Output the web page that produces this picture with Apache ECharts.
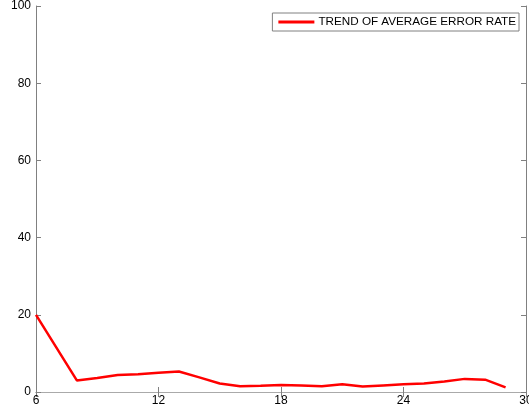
<!DOCTYPE html>
<html><head><meta charset="utf-8">
<script src="https://cdn.jsdelivr.net/npm/echarts@6/dist/echarts.min.js"></script>
<style>html,body{margin:0;padding:0;background:#fff}#c{width:529px;height:406px}</style>
</head><body><div id="c"></div>
<script>
var xValues = [6, 8, 9, 10, 11, 12, 13, 14, 15, 16, 17, 18, 19, 20, 21, 22, 23, 24, 25, 26, 27, 28, 29];
var yValues = [20, 3.0, 3.6, 4.4, 4.6, 5.0, 5.3, 3.8, 2.2, 1.5, 1.6, 1.8, 1.7, 1.5, 2.0, 1.4, 1.7, 2.0, 2.2, 2.7, 3.4, 3.2, 1.2];
var seriesName = 'TREND OF AVERAGE ERROR RATE';
var data = xValues.map(function (x, i) { return [x, yValues[i]]; });
var axisColor = '#808080';
var chart = echarts.init(document.getElementById('c'));
var tickX = {show: true, inside: true, length: 5, lineStyle: {color: axisColor}};
var font = 'Liberation Sans, Arial';
chart.setOption({
  animation: false,
  grid: {left: 36, right: 3, top: 6, bottom: 14, containLabel: false, outerBoundsMode: 'none'},
  legend: {
    show: true, right: 10, top: 13, orient: 'horizontal',
    backgroundColor: '#fff', borderColor: '#808080', borderWidth: 1,
    padding: [3, 3, 3, 6], itemWidth: 36, itemHeight: 3, itemGap: 6,
    icon: 'rect',
    textStyle: {fontFamily: font, fontSize: 11.7, color: '#000', padding: [0, 0, 0, -1]},
    data: [seriesName]
  },
  xAxis: [{
    type: 'value', min: 6, max: 30, interval: 6, position: 'bottom',
    axisLine: {show: true, lineStyle: {color: axisColor}},
    axisTick: tickX, splitLine: {show: false},
    axisLabel: {color: '#000', fontFamily: font, fontSize: 12, margin: 3}
  }, {
    type: 'value', min: 6, max: 30, interval: 6, position: 'top',
    axisLine: {show: true, lineStyle: {color: '#aaa'}},
    axisTick: tickX, splitLine: {show: false}, axisLabel: {show: false}
  }],
  yAxis: [{
    type: 'value', min: 0, max: 100, interval: 20, position: 'left',
    axisLine: {show: true, lineStyle: {color: axisColor}},
    axisTick: tickX, splitLine: {show: false},
    axisLabel: {color: '#000', fontFamily: font, fontSize: 12, margin: 5}
  }, {
    type: 'value', min: 0, max: 100, interval: 20, position: 'right',
    axisLine: {show: true, lineStyle: {color: axisColor}},
    axisTick: tickX, splitLine: {show: false}, axisLabel: {show: false}
  }],
  series: [{
    name: seriesName, type: 'line', data: data, xAxisIndex: 0, yAxisIndex: 0,
    showSymbol: false, symbol: 'none',
    lineStyle: {color: '#ff0000', width: 2.5}, itemStyle: {color: '#ff0000'}
  }]
});
</script></body></html>
